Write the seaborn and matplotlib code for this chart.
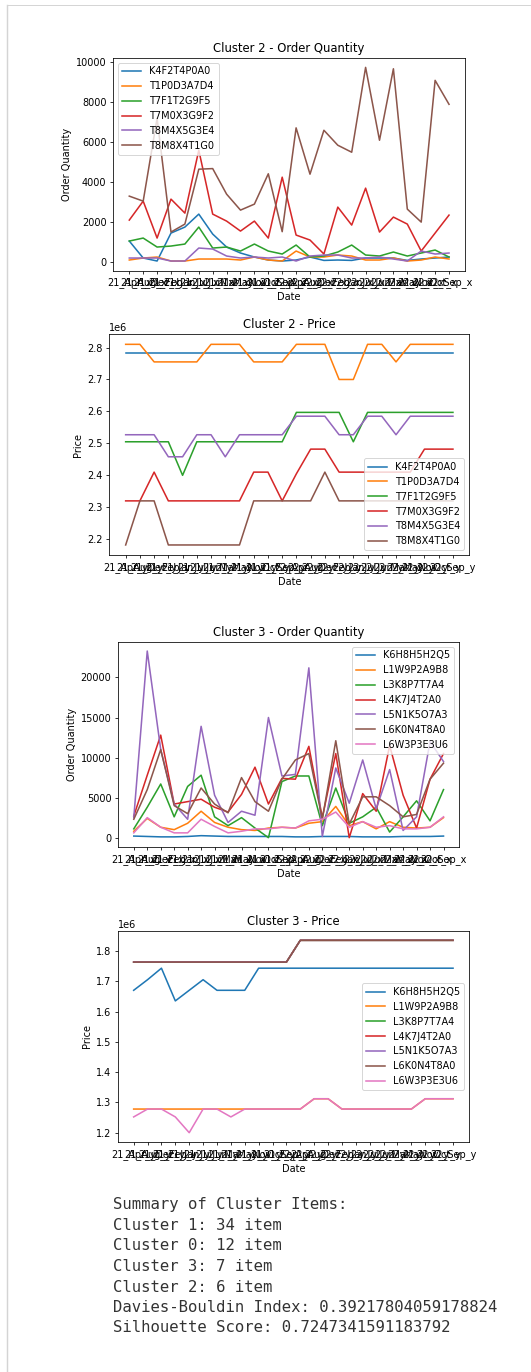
import matplotlib
matplotlib.use("Agg")
import matplotlib.pyplot as plt
import seaborn as sns
import pandas as pd
from matplotlib.lines import Line2D

# ---- x axis categories (month columns, alphabetical as they come out of the merge) ----
months = ["Apr", "Aug", "Dec", "Feb", "Jan", "Jul", "Jun", "Mar", "May", "Nov", "Oct", "Sep"]
periods = [f"{yr}_{m}" for yr in ("21", "22") for m in months]
qty_cols = [p + "_x" for p in periods]
price_cols = [p + "_y" for p in periods]

# ---- Cluster 2: order quantity ----
c2_qty_K4F2T4P0A0 = [1050, 200, 50, 1450, 1750, 2400, 1400, 750, 450, 250, 100, 50, 100, 250, 80, 100, 80, 200, 200, 200, 80, 150, 200, 250]
c2_qty_T1P0D3A7D4 = [100, 200, 250, 50, 50, 150, 150, 150, 100, 250, 100, 50, 550, 250, 250, 350, 300, 100, 100, 200, 50, 100, 250, 150]
c2_qty_T7F1T2G9F5 = [1050, 1200, 750, 800, 900, 1750, 700, 750, 550, 900, 550, 400, 850, 250, 300, 500, 850, 350, 300, 500, 300, 450, 600, 250]
c2_qty_T7M0X3G9F2 = [2100, 3050, 1200, 3150, 2450, 5600, 2400, 2050, 1550, 2050, 1200, 4250, 1350, 1100, 400, 2750, 1850, 3700, 1500, 2250, 1900, 550, 1450, 2350]
c2_qty_T8M4X5G3E4 = [200, 200, 200, 50, 50, 700, 650, 300, 200, 250, 200, 250, 50, 300, 350, 350, 200, 200, 250, 150, 50, 550, 400, 450]
c2_qty_T8M8X4T1G0 = [3300, 3050, 7200, 1500, 1900, 4650, 4680, 3400, 2600, 2900, 4420, 1520, 6720, 4400, 6600, 5850, 5500, 9750, 6100, 9680, 2650, 2000, 9100, 7900]

# ---- Cluster 2: price ----
c2_price_K4F2T4P0A0 = [2783000, 2783000, 2783000, 2783000, 2783000, 2783000, 2783000, 2783000, 2783000, 2783000, 2783000, 2783000,
                       2783000, 2783000, 2783000, 2783000, 2783000, 2783000, 2783000, 2783000, 2783000, 2783000, 2783000, 2783000]
c2_price_T1P0D3A7D4 = [2810000, 2810000, 2755000, 2755000, 2755000, 2755000, 2810000, 2810000, 2810000, 2755000, 2755000, 2755000,
                       2810000, 2810000, 2810000, 2700000, 2700000, 2810000, 2810000, 2755000, 2810000, 2810000, 2810000, 2810000]
c2_price_T7F1T2G9F5 = [2505000, 2505000, 2505000, 2505000, 2400000, 2505000, 2505000, 2505000, 2505000, 2505000, 2505000, 2505000,
                       2597000, 2597000, 2597000, 2597000, 2505000, 2597000, 2597000, 2597000, 2597000, 2597000, 2597000, 2597000]
c2_price_T7M0X3G9F2 = [2320000, 2320000, 2410000, 2320000, 2320000, 2320000, 2320000, 2320000, 2320000, 2410000, 2410000, 2320000,
                       2405000, 2482000, 2482000, 2410000, 2410000, 2410000, 2410000, 2410000, 2410000, 2482000, 2482000, 2482000]
c2_price_T8M4X5G3E4 = [2527000, 2527000, 2527000, 2458000, 2458000, 2527000, 2527000, 2458000, 2527000, 2527000, 2527000, 2527000,
                       2585000, 2585000, 2585000, 2527000, 2527000, 2585000, 2585000, 2527000, 2585000, 2585000, 2585000, 2585000]
c2_price_T8M8X4T1G0 = [2182000, 2320000, 2320000, 2182000, 2182000, 2182000, 2182000, 2182000, 2182000, 2320000, 2320000, 2320000,
                       2320000, 2320000, 2410000, 2320000, 2320000, 2320000, 2320000, 2320000, 2320000, 2320000, 2320000, 2320000]

# ---- Cluster 3: order quantity ----
c3_qty_K6H8H5H2Q5 = [200, 150, 100, 100, 150, 250, 200, 150, 150, 150, 150, 150, 100, 100, 150, 150, 150, 100, 100, 100, 150, 150, 150, 200]
c3_qty_L1W9P2A9B8 = [800, 2400, 1300, 1000, 1800, 3300, 1900, 1300, 1000, 900, 1200, 1300, 1200, 1800, 2000, 3900, 1500, 2000, 1100, 2000, 1300, 1200, 1300, 2500]
c3_qty_L3K8P7T7A4 = [1100, 3800, 6700, 2600, 6400, 7800, 2600, 1500, 2500, 1200, 0, 7000, 7700, 7700, 1500, 6200, 1800, 2600, 3800, 700, 2600, 4600, 2100, 6000]
c3_qty_L4K7J4T2A0 = [2700, 7800, 12800, 4200, 4500, 4800, 3800, 3200, 5400, 8800, 4200, 7400, 7300, 11400, 2500, 10500, 0, 5500, 3300, 11500, 5300, 1200, 7300, 10500]
c3_qty_L5N1K5O7A3 = [2500, 23300, 11000, 4200, 2300, 13900, 5300, 1900, 3300, 2800, 15000, 7700, 7900, 21200, 150, 8700, 4300, 9700, 3600, 8500, 900, 2600, 12000, 9500]
c3_qty_L6K0N4T8A0 = [2300, 6000, 11000, 4000, 3000, 6200, 4200, 3100, 7500, 4500, 3300, 7300, 9700, 10500, 2300, 12100, 1700, 5100, 5100, 4000, 2600, 2900, 7300, 9300]
c3_qty_L6W3P3E3U6 = [600, 2500, 1300, 600, 600, 2300, 1400, 600, 800, 1100, 1100, 1300, 1200, 2100, 2300, 3200, 1300, 2000, 1300, 1500, 1100, 1100, 1300, 2600]

# ---- Cluster 3: price ----
c3_price_K6H8H5H2Q5 = [1670000, 1705000, 1743000, 1635000, 1670000, 1705000, 1670000, 1670000, 1670000, 1743000, 1743000, 1743000,
                       1743000, 1743000, 1743000, 1743000, 1743000, 1743000, 1743000, 1743000, 1743000, 1743000, 1743000, 1743000]
c3_price_L1W9P2A9B8 = [1278000, 1278000, 1278000, 1278000, 1278000, 1278000, 1278000, 1278000, 1278000, 1278000, 1278000, 1278000,
                       1278000, 1312000, 1312000, 1278000, 1278000, 1278000, 1278000, 1278000, 1278000, 1312000, 1312000, 1312000]
c3_price_L3K8P7T7A4 = [1763000, 1763000, 1763000, 1763000, 1763000, 1763000, 1763000, 1763000, 1763000, 1763000, 1763000, 1763000,
                       1835000, 1835000, 1835000, 1835000, 1835000, 1835000, 1835000, 1835000, 1835000, 1835000, 1835000, 1835000]
c3_price_L4K7J4T2A0 = [1763000, 1763000, 1763000, 1763000, 1763000, 1763000, 1763000, 1763000, 1763000, 1763000, 1763000, 1763000,
                       1835000, 1835000, 1835000, 1835000, 1835000, 1835000, 1835000, 1835000, 1835000, 1835000, 1835000, 1835000]
c3_price_L5N1K5O7A3 = [1763000, 1763000, 1763000, 1763000, 1763000, 1763000, 1763000, 1763000, 1763000, 1763000, 1763000, 1763000,
                       1835000, 1835000, 1835000, 1835000, 1835000, 1835000, 1835000, 1835000, 1835000, 1835000, 1835000, 1835000]
c3_price_L6K0N4T8A0 = [1763000, 1763000, 1763000, 1763000, 1763000, 1763000, 1763000, 1763000, 1763000, 1763000, 1763000, 1763000,
                       1835000, 1835000, 1835000, 1835000, 1835000, 1835000, 1835000, 1835000, 1835000, 1835000, 1835000, 1835000]
c3_price_L6W3P3E3U6 = [1252000, 1278000, 1278000, 1252000, 1200000, 1278000, 1278000, 1252000, 1278000, 1278000, 1278000, 1278000,
                       1278000, 1312000, 1312000, 1278000, 1278000, 1278000, 1278000, 1278000, 1278000, 1312000, 1312000, 1312000]

# ---- printed summary ----
summary_lines = [
    "Summary of Cluster Items:",
    "Cluster 1: 34 item",
    "Cluster 0: 12 item",
    "Cluster 3: 7 item",
    "Cluster 2: 6 item",
    "Davies-Bouldin Index: 0.39217804059178824",
    "Silhouette Score: 0.7247341591183792",
]

cluster2_qty = {
    "K4F2T4P0A0": c2_qty_K4F2T4P0A0, "T1P0D3A7D4": c2_qty_T1P0D3A7D4, "T7F1T2G9F5": c2_qty_T7F1T2G9F5,
    "T7M0X3G9F2": c2_qty_T7M0X3G9F2, "T8M4X5G3E4": c2_qty_T8M4X5G3E4, "T8M8X4T1G0": c2_qty_T8M8X4T1G0,
}
cluster2_price = {
    "K4F2T4P0A0": c2_price_K4F2T4P0A0, "T1P0D3A7D4": c2_price_T1P0D3A7D4, "T7F1T2G9F5": c2_price_T7F1T2G9F5,
    "T7M0X3G9F2": c2_price_T7M0X3G9F2, "T8M4X5G3E4": c2_price_T8M4X5G3E4, "T8M8X4T1G0": c2_price_T8M8X4T1G0,
}
cluster3_qty = {
    "K6H8H5H2Q5": c3_qty_K6H8H5H2Q5, "L1W9P2A9B8": c3_qty_L1W9P2A9B8, "L3K8P7T7A4": c3_qty_L3K8P7T7A4,
    "L4K7J4T2A0": c3_qty_L4K7J4T2A0, "L5N1K5O7A3": c3_qty_L5N1K5O7A3, "L6K0N4T8A0": c3_qty_L6K0N4T8A0,
    "L6W3P3E3U6": c3_qty_L6W3P3E3U6,
}
cluster3_price = {
    "K6H8H5H2Q5": c3_price_K6H8H5H2Q5, "L1W9P2A9B8": c3_price_L1W9P2A9B8, "L3K8P7T7A4": c3_price_L3K8P7T7A4,
    "L4K7J4T2A0": c3_price_L4K7J4T2A0, "L5N1K5O7A3": c3_price_L5N1K5O7A3, "L6K0N4T8A0": c3_price_L6K0N4T8A0,
    "L6W3P3E3U6": c3_price_L6W3P3E3U6,
}

W, H, DPI = 531, 1372, 70
palette = sns.color_palette("tab10")

fig = plt.figure(figsize=(W / DPI, H / DPI), dpi=DPI, facecolor="white")


def px_axes(left, top, right, bottom):
    return fig.add_axes([left / W, 1 - bottom / H, (right - left) / W, (bottom - top) / H])


def draw_panel(ax, series, cols, title, ylabel, legend_loc):
    for i, (item, vals) in enumerate(series.items()):
        df = pd.DataFrame({"Date": cols, ylabel: vals})
        sns.lineplot(data=df, x="Date", y=ylabel, ax=ax, color=palette[i],
                     label=item, sort=False, linewidth=1.6)
    ax.set_title(title)
    ax.set_xlabel("Date")
    ax.set_ylabel(ylabel)
    ax.legend(loc=legend_loc)


ax1 = px_axes(113.3, 57.7, 465, 270.7)
draw_panel(ax1, cluster2_qty, qty_cols, "Cluster 2 - Order Quantity", "Order Quantity", "upper left")

ax2 = px_axes(109.3, 334.3, 469.3, 555)
draw_panel(ax2, cluster2_price, price_cols, "Cluster 2 - Price", "Price", "lower right")

ax3 = px_axes(118.3, 641.7, 459, 847)
draw_panel(ax3, cluster3_qty, qty_cols, "Cluster 3 - Order Quantity", "Order Quantity", "upper right")

ax4 = px_axes(117.7, 930.7, 469, 1142.3)
draw_panel(ax4, cluster3_price, price_cols, "Cluster 3 - Price", "Price", "center right")

# printed output below the charts
y0, dy = 1205, 20.5
mono_size = 16.1
for k, line in enumerate(summary_lines):
    fig.text(112.7 / W, 1 - (y0 + k * dy) / H, line, family="DejaVu Sans Mono",
             fontsize=mono_size, color="#333333", va="center", ha="left")

# output cell frame
frame_color = "#d4d4d4"
fig.add_artist(Line2D([7 / W, 7 / W], [0, 1 - 5 / H], color=frame_color, linewidth=1.5, transform=fig.transFigure))
fig.add_artist(Line2D([7 / W, 1], [1 - 5 / H, 1 - 5 / H], color=frame_color, linewidth=1.0, transform=fig.transFigure))

fig.savefig("out.png", dpi=DPI, facecolor="white")
